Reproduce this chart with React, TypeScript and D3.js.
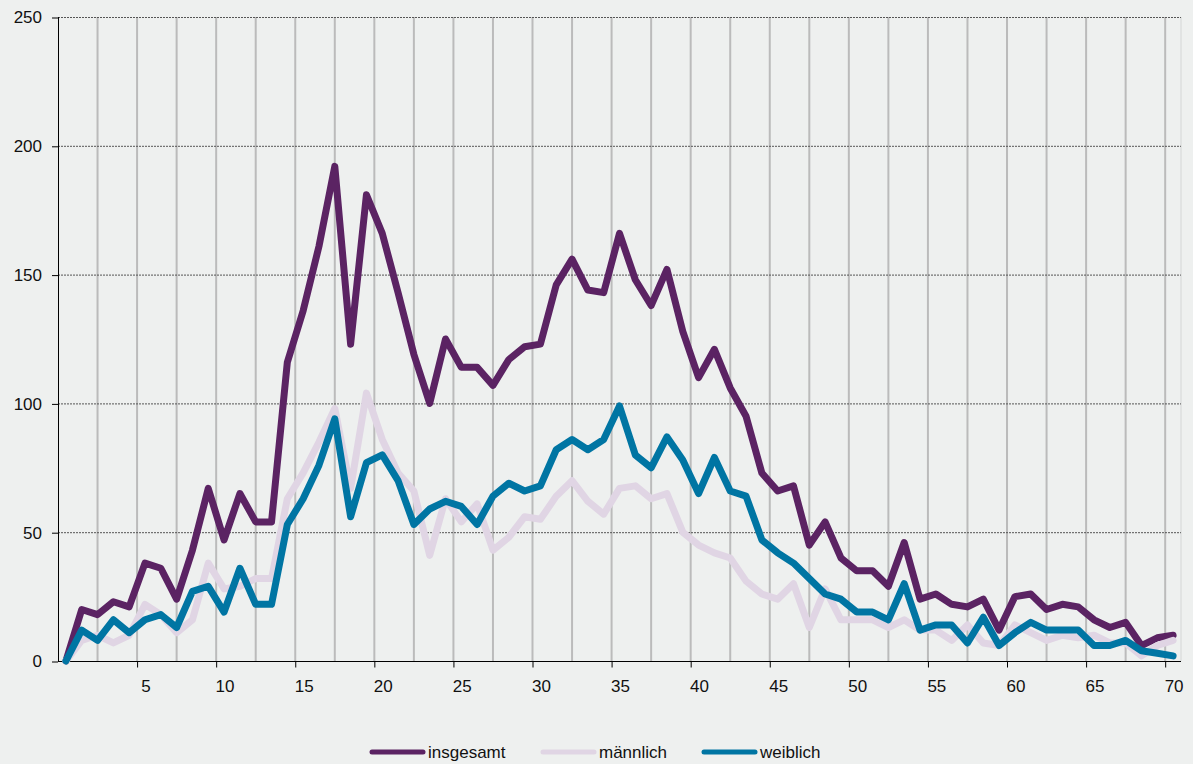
import React, { useEffect, useRef } from 'react';
import * as d3 from 'd3';

// age 0..70
const ages = d3.range(0, 71);

const insgesamt = [
  0, 20, 18, 23, 21, 38, 36, 24, 43, 67,
  47, 65, 54, 54, 116, 136, 161, 192, 123, 181,
  166, 143, 119, 100, 125, 114, 114, 107, 117, 122,
  123, 146, 156, 144, 143, 166, 148, 138, 152, 128,
  110, 121, 106, 95, 73, 66, 68, 45, 54, 40,
  35, 35, 29, 46, 24, 26, 22, 21, 24, 12,
  25, 26, 20, 22, 21, 16, 13, 15, 6, 9,
  10,
];

const maennlich = [
  0, 8, 10, 7, 10, 22, 18, 11, 16, 38,
  28, 29, 32, 32, 63, 73, 85, 98, 67, 104,
  86, 73, 66, 41, 63, 54, 61, 43, 48, 56,
  55, 64, 70, 62, 57, 67, 68, 63, 65, 50,
  45, 42, 40, 31, 26, 24, 30, 13, 28, 16,
  16, 16, 13, 16, 12, 12, 8, 14, 7, 6,
  14, 11, 8, 10, 9, 10, 7, 7, 2, 6,
  8,
];

const weiblich = [
  0, 12, 8, 16, 11, 16, 18, 13, 27, 29,
  19, 36, 22, 22, 53, 63, 76, 94, 56, 77,
  80, 70, 53, 59, 62, 60, 53, 64, 69, 66,
  68, 82, 86, 82, 86, 99, 80, 75, 87, 78,
  65, 79, 66, 64, 47, 42, 38, 32, 26, 24,
  19, 19, 16, 30, 12, 14, 14, 7, 17, 6,
  11, 15, 12, 12, 12, 6, 6, 8, 4, 3,
  2,
];

const xLabels = [5, 10, 15, 20, 25, 30, 35, 40, 45, 50, 55, 60, 65, 70];
const yTicks = [0, 50, 100, 150, 200, 250];

const series = [
  { name: 'insgesamt', values: insgesamt, color: '#5B2363' },
  { name: 'männlich', values: maennlich, color: '#E0D5E4' },
  { name: 'weiblich', values: weiblich, color: '#0075A3' },
];

const W = 1193;
const H = 764;
const FONT = 'Liberation Sans, Arial, sans-serif';

const App = () => {
  const svgRef = useRef<SVGSVGElement>(null);

  useEffect(() => {
    const svg = d3.select(svgRef.current);
    svg.selectAll('*').remove();

    const left = 58, right = 1181, top = 17, bottom = 661;

    // category axis: each age gets one band, points sit in the middle
    const x = d3.scaleLinear().domain([-0.5, 70.5]).range([left, right]);
    const y = d3.scaleLinear().domain([0, 250]).range([bottom, top]);

    svg.append('rect').attr('width', W).attr('height', H).attr('fill', '#EEF0EF');

    // vertical gridlines every 2.5 bands
    const vLines = d3.range(1, 29).map(k => -0.5 + k * 2.5);
    svg.append('g')
      .selectAll('line')
      .data(vLines)
      .enter()
      .append('line')
        .attr('x1', d => x(d))
        .attr('x2', d => x(d))
        .attr('y1', top)
        .attr('y2', bottom)
        .attr('stroke', '#BBBBBB')
        .attr('stroke-width', 2);

    // right border of the plot
    svg.append('line')
      .attr('x1', right).attr('x2', right)
      .attr('y1', top).attr('y2', bottom)
      .attr('stroke', '#D4D6D6')
      .attr('stroke-width', 1);

    // horizontal dotted gridlines
    svg.append('g')
      .selectAll('line')
      .data(yTicks.filter(d => d > 0))
      .enter()
      .append('line')
        .attr('x1', left)
        .attr('x2', right)
        .attr('y1', d => y(d) + 0.5)
        .attr('y2', d => y(d) + 0.5)
        .attr('stroke', '#555')
        .attr('stroke-width', 1)
        .attr('stroke-dasharray', '2,1');

    // Y axis
    const yAxis = svg.append('g')
      .attr('transform', `translate(${left},0.5)`)
      .call(d3.axisLeft(y).tickValues(yTicks).tickSize(6).tickPadding(10));
    yAxis.select('.domain').remove();
    yAxis.selectAll('line').attr('stroke', '#000');
    yAxis.selectAll('text')
      .style('font-family', FONT)
      .style('font-size', '17px')
      .attr('fill', '#111');
    svg.append('line')
      .attr('x1', left + 0.5).attr('x2', left + 0.5)
      .attr('y1', top).attr('y2', bottom + 1)
      .attr('stroke', '#000');

    // X axis
    const xTicks = d3.range(1, 15).map(k => -0.5 + k * 5);
    const xAxis = svg.append('g')
      .attr('transform', `translate(0,${bottom + 0.5})`)
      .call(d3.axisBottom(x).tickValues(xTicks).tickSize(6).tickFormat(() => ''));
    xAxis.select('.domain').remove();
    xAxis.selectAll('line').attr('stroke', '#000');
    svg.append('line')
      .attr('x1', left).attr('x2', right)
      .attr('y1', bottom + 0.5).attr('y2', bottom + 0.5)
      .attr('stroke', '#000');

    svg.append('g')
      .selectAll('text')
      .data(xLabels)
      .enter()
      .append('text')
        .attr('x', d => x(d) + 1)
        .attr('y', bottom + 31)
        .attr('text-anchor', 'middle')
        .style('font-family', FONT)
        .style('font-size', '17px')
        .attr('fill', '#111')
        .text(d => d);

    // Lines
    const line = d3.line<number>()
      .x((d, i) => x(ages[i]))
      .y(d => y(d));

    series.forEach(s => {
      svg.append('path')
        .datum(s.values)
        .attr('fill', 'none')
        .attr('stroke', s.color)
        .attr('stroke-width', 7)
        .attr('stroke-linejoin', 'round')
        .attr('stroke-linecap', 'round')
        .attr('d', line);
    });

    // Legend
    const legendX = [370, 541, 702];
    const legend = svg.append('g');
    series.forEach((s, i) => {
      legend.append('line')
        .attr('x1', legendX[i] + 2)
        .attr('x2', legendX[i] + 53)
        .attr('y1', 752)
        .attr('y2', 752)
        .attr('stroke', s.color)
        .attr('stroke-width', 5)
        .attr('stroke-linecap', 'round');
      legend.append('text')
        .attr('x', legendX[i] + 58)
        .attr('y', 758)
        .style('font-family', FONT)
        .style('font-size', '17px')
        .attr('fill', '#111')
        .text(s.name);
    });
  }, []);

  return (
    <svg
      ref={svgRef}
      width={W}
      height={H}
      style={{ position: 'absolute', left: 0, top: 0, display: 'block' }}
    />
  );
};

export default App;
